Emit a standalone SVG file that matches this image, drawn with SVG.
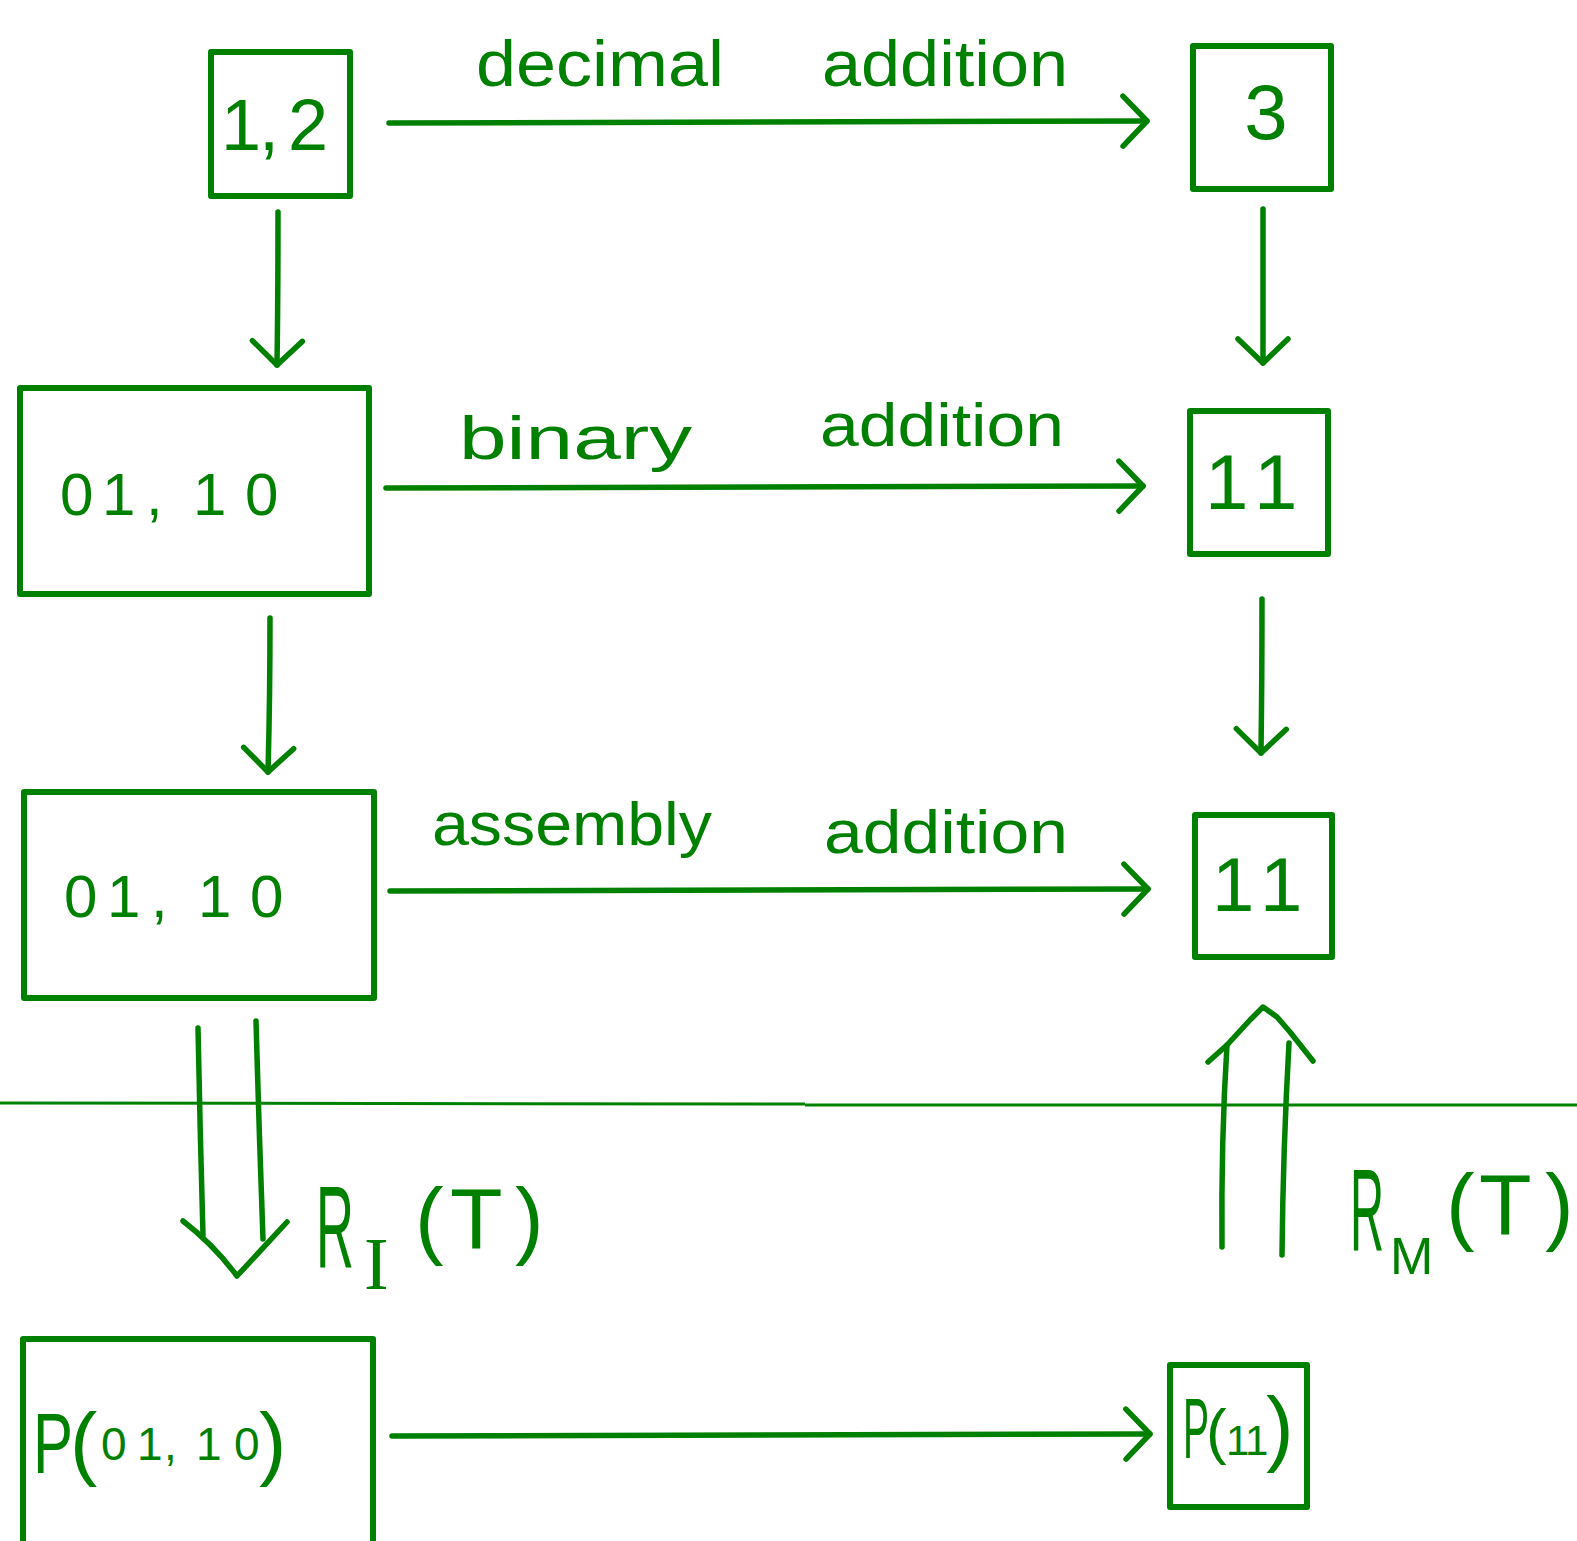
<svg xmlns="http://www.w3.org/2000/svg" width="1577" height="1541" viewBox="0 0 1577 1541">
  <style>
    .box { fill: none; stroke: #008000; stroke-width: 6; stroke-linejoin: round; }
    .wire { fill: none; stroke: #008000; stroke-width: 5.5; stroke-linecap: round; stroke-linejoin: round; }
    .rule { fill: none; stroke: #008000; stroke-width: 3; }
    .hw { font-family: "Liberation Sans", Arial, sans-serif; fill: #008000; }
    .hws { font-family: "Liberation Serif", "Times New Roman", serif; fill: #008000; }
  </style>
  <defs>
    <marker id="chev" markerUnits="userSpaceOnUse" orient="auto" overflow="visible" refX="0" refY="0" markerWidth="1" markerHeight="1">
      <path d="M-24,-25 L0,0 L-24,25" fill="none" stroke="#008000" stroke-width="5.5" stroke-linecap="round" stroke-linejoin="round"/>
    </marker>
  </defs>

  <rect width="1577" height="1541" fill="#ffffff"/>

  <!-- dividing rule between the upper and lower layers -->
  <path class="rule" d="M0,1103 L805,1104 M805,1105 L1577,1105"/>

  <!-- nodes -->
  <g id="n-12">
    <rect class="box" x="211" y="52" width="139" height="144"/>
    <text class="hw" font-size="72" x="221 259 288" y="150">1,2</text>
  </g>
  <g id="n-3">
    <rect class="box" x="1193" y="46" width="138" height="143"/>
    <text class="hw" font-size="78" x="1266" y="139" text-anchor="middle">3</text>
  </g>
  <g id="n-bin-0110">
    <rect class="box" x="20" y="388" width="349" height="206"/>
    <text class="hw" font-size="60" x="60 102 146 170 193 245" y="515">01, 10</text>
  </g>
  <g id="n-bin-11">
    <rect class="box" x="1190" y="411" width="138" height="143"/>
    <text class="hw" font-size="78" x="1205 1254" y="509">11</text>
  </g>
  <g id="n-asm-0110">
    <rect class="box" x="24" y="792" width="350" height="206"/>
    <text class="hw" font-size="60" x="64 107 151 175 198 250" y="917">01, 10</text>
  </g>
  <g id="n-asm-11">
    <rect class="box" x="1195" y="815" width="137" height="142"/>
    <text class="hw" font-size="76" x="1212 1260" y="911">11</text>
  </g>
  <g id="n-p0110">
    <rect class="box" x="23" y="1339" width="350" height="230"/>
    <text class="hw"><tspan x="33" y="1473" font-size="86" textLength="40" lengthAdjust="spacingAndGlyphs">P</tspan><tspan x="70" y="1470" font-size="82">(</tspan><tspan x="101 137 164 180 196 234" y="1460" font-size="46">01, 10</tspan><tspan x="259" y="1470" font-size="82">)</tspan></text>
  </g>
  <g id="n-p11">
    <rect class="box" x="1170" y="1365" width="137" height="142"/>
    <text class="hw"><tspan x="1183" y="1458" font-size="85" textLength="26" lengthAdjust="spacingAndGlyphs">P</tspan><tspan x="1206" y="1452" font-size="62">(</tspan><tspan x="1226 1245" y="1455" font-size="42">11</tspan><tspan x="1266" y="1456" font-size="83">)</tspan></text>
  </g>

  <!-- connectors -->
  <g id="connectors">
    <path class="wire" d="M389,123 L1147,121" marker-end="url(#chev)"/>
    <path class="wire" d="M278,212 Q278,300 277,365" marker-end="url(#chev)"/>
    <path class="wire" d="M1263,209 Q1263,290 1263,363" marker-end="url(#chev)"/>
    <path class="wire" d="M386,488 L1143,486" marker-end="url(#chev)"/>
    <path class="wire" d="M270,618 Q270,700 268,772" marker-end="url(#chev)"/>
    <path class="wire" d="M1262,599 Q1262,680 1261,753" marker-end="url(#chev)"/>
    <path class="wire" d="M390,891 L1148,889" marker-end="url(#chev)"/>
    <path class="wire" d="M392,1436 L1150,1434" marker-end="url(#chev)"/>

    <!-- double arrow down: R_I(T) -->
    <path class="wire" d="M198,1028 Q200,1130 203,1235"/>
    <path class="wire" d="M256,1021 Q259,1130 263,1239"/>
    <path class="wire" d="M183,1221 Q214,1245 237,1276 Q262,1249 287,1222"/>

    <!-- double arrow up: R_M(T) -->
    <path class="wire" d="M1222,1247 Q1221,1140 1227,1045"/>
    <path class="wire" d="M1282,1255 Q1283,1150 1289,1043"/>
    <path class="wire" d="M1208,1062 L1227,1045 L1250,1020 L1263,1007 L1277,1017 L1290,1032 L1313,1061"/>

    <!-- connector labels -->
    <text class="hw" font-size="64"><tspan x="476" y="86" textLength="248" lengthAdjust="spacingAndGlyphs">decimal</tspan> <tspan x="822" y="86" textLength="246" lengthAdjust="spacingAndGlyphs">addition</tspan></text>
    <text class="hw" font-size="62"><tspan x="459" y="459" textLength="233" lengthAdjust="spacingAndGlyphs">binary</tspan> <tspan x="820" y="446" textLength="244" lengthAdjust="spacingAndGlyphs">addition</tspan></text>
    <text class="hw" font-size="62"><tspan x="432" y="845" textLength="280" lengthAdjust="spacingAndGlyphs">assembly</tspan> <tspan x="824" y="853" textLength="244" lengthAdjust="spacingAndGlyphs">addition</tspan></text>

    <text class="hw"><tspan x="316" y="1267" font-size="116" textLength="38" lengthAdjust="spacingAndGlyphs">R</tspan><tspan class="hws" x="364" y="1289" font-size="74">I</tspan><tspan x="415 450 515" y="1248" font-size="86">(T)</tspan></text>
    <text class="hw"><tspan x="1350" y="1250" font-size="116" textLength="34" lengthAdjust="spacingAndGlyphs">R</tspan><tspan x="1390" y="1274" font-size="52">M</tspan><tspan x="1446 1479 1545" y="1234" font-size="86">(T)</tspan></text>
  </g>
</svg>
